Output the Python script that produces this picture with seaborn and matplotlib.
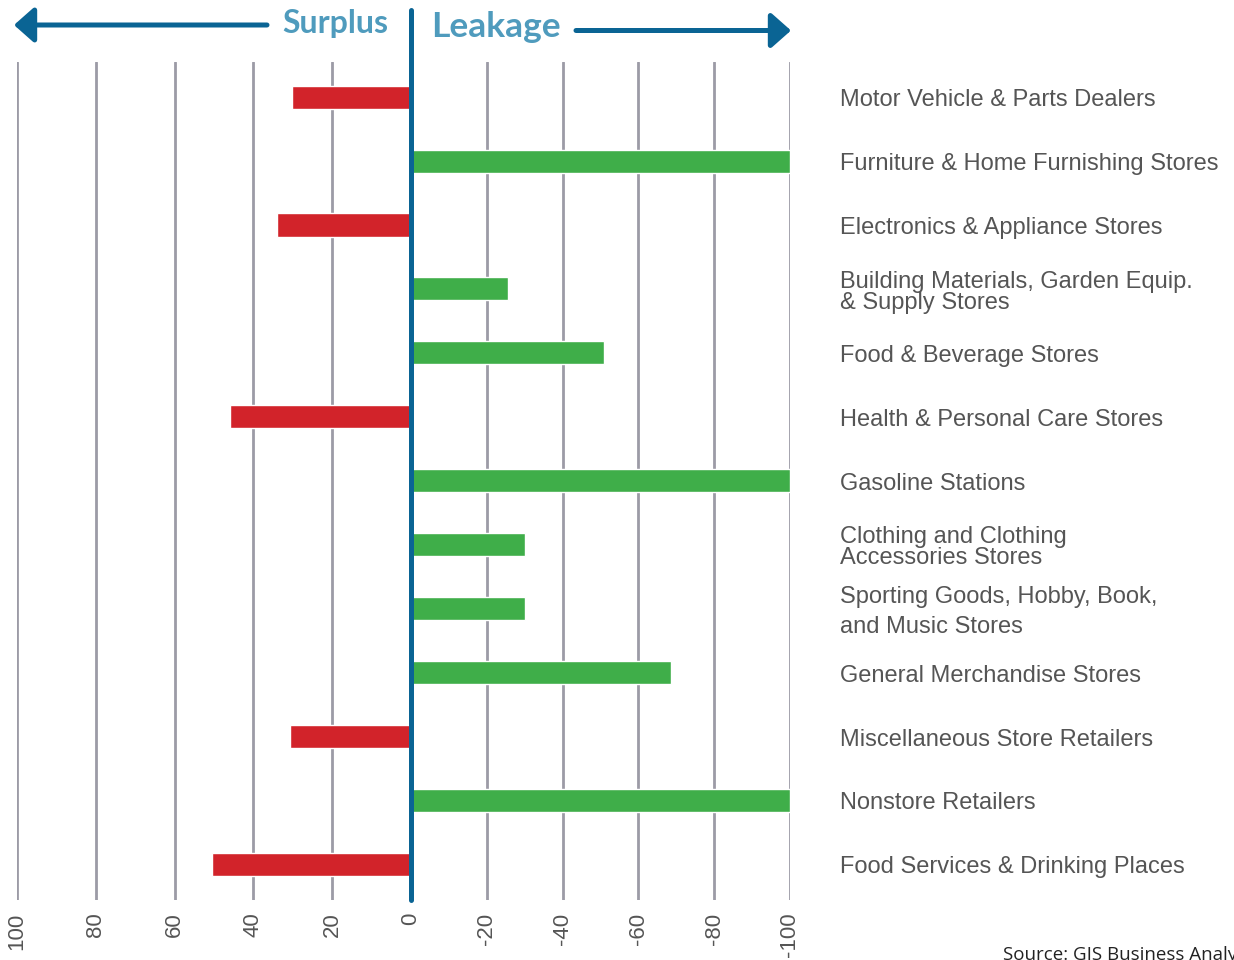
import matplotlib
matplotlib.use("Agg")
import matplotlib.pyplot as plt
import seaborn as sns
import numpy as np
import pandas as pd
from matplotlib.patches import FancyArrowPatch

# Retail sectors, top to bottom
categories = [
    "Motor Vehicle & Parts Dealers",
    "Furniture & Home Furnishing Stores",
    "Electronics & Appliance Stores",
    "Building Materials, Garden Equip.\n& Supply Stores",
    "Food & Beverage Stores",
    "Health & Personal Care Stores",
    "Gasoline Stations",
    "Clothing and Clothing\nAccessories Stores",
    "Sporting Goods, Hobby, Book,\nand Music Stores",
    "General Merchandise Stores",
    "Miscellaneous Store Retailers",
    "Nonstore Retailers",
    "Food Services & Drinking Places",
]
# Leakage/surplus factor: positive = surplus, negative = leakage
values = [30.3, -100, 34, -25.5, -50.8, 46, -100, -30, -30, -68.6, 30.7, -100, 50.5]
tick_values = [100, 80, 60, 40, 20, 0, -20, -40, -60, -80, -100]

RED = "#d2232a"
GREEN = "#3fae49"
BLUE = "#0a6494"
TITLE_BLUE = "#4f9bbd"
GRID = "#9c9ba6"
TEXT = "#555555"

df = pd.DataFrame({"category": categories, "value": values})
df["side"] = ["Surplus" if v > 0 else "Leakage" for v in values]

sns.set_theme(style="white")
plt.rcParams["font.family"] = ["Liberation Sans", "DejaVu Sans"]

W, H = 1234, 960
fig = plt.figure(figsize=(W / 100, H / 100), dpi=100)
left_px, right_px, top_px, bot_px = 17, 790, 62, 900
ax = fig.add_axes([left_px / W, 1 - bot_px / H, (right_px - left_px) / W, (bot_px - top_px) / H])

# surplus half of the axis is drawn slightly wider than the leakage half
SURPLUS_STRETCH = 394 / 379


def _fwd(x):
    x = np.asarray(x, dtype=float)
    return np.where(x > 0, x * SURPLUS_STRETCH, x)


def _inv(x):
    x = np.asarray(x, dtype=float)
    return np.where(x > 0, x / SURPLUS_STRETCH, x)


# reference gridlines drawn behind the bars
for t in tick_values:
    if t != 0:
        ax.axvline(t, color=GRID, lw=2.0, zorder=0)

sns.barplot(
    data=df, x="value", y="category", hue="side",
    palette={"Surplus": RED, "Leakage": GREEN},
    orient="h", dodge=False, width=0.36, legend=False,
    saturation=1, ax=ax, zorder=2,
)

ax.set_xscale("function", functions=(_fwd, _inv))
ax.set_xlim(100, -100)
ax.set_ylim(12.56, -0.55)
ax.set_xticks(tick_values)
ax.set_xticklabels([str(t) for t in tick_values])
ax.xaxis.set_minor_locator(matplotlib.ticker.NullLocator())
ax.tick_params(axis="x", which="both", labelrotation=90, labelsize=16, labelcolor=TEXT, length=0, pad=9)
ax.set_yticks([])
ax.set_xlabel("")
ax.set_ylabel("")
for s in ax.spines.values():
    s.set_visible(False)

# zero divider, extending up into the header
ax.axvline(0, ymin=0, ymax=(bot_px - 10) / (bot_px - top_px), color=BLUE, lw=3.6,
           clip_on=False, zorder=3)

# category names on the right
label_x = 1.0 + (840 - right_px) / (right_px - left_px)
for i, name in enumerate(categories):
    ls = 1.45 if name.startswith("Sporting") else 0.95
    ax.text(label_x, i + 0.05, name, transform=ax.get_yaxis_transform(),
            ha="left", va="center", fontsize=17, color=TEXT, linespacing=ls)

# header: Surplus / Leakage with arrows
fig.text(388 / W, 1 - 24 / H, "Surplus", ha="right", va="center",
         fontsize=23, fontweight="bold", color=TITLE_BLUE, family=["Lato", "DejaVu Sans"])
fig.text(431 / W, 1 - 27 / H, "Leakage", ha="left", va="center",
         fontsize=25.5, fontweight="bold", color=TITLE_BLUE, family=["Lato", "DejaVu Sans"])
for (x0, x1, y) in [(267, 14, 25), (576, 791, 30.5)]:
    fig.add_artist(FancyArrowPatch(
        (x0 / W, 1 - y / H), (x1 / W, 1 - y / H), transform=fig.transFigure,
        arrowstyle="-|>,head_length=0.87,head_width=0.77", mutation_scale=14,
        color=BLUE, lw=3.6, shrinkA=0, shrinkB=0))

fig.text(1003 / W, 0.5 / H, "Source: GIS Business Analyst", ha="left", va="baseline",
         fontsize=13.5, color="#222222", family=["Open Sans", "DejaVu Sans"])

fig.savefig("out.png", dpi=100)
